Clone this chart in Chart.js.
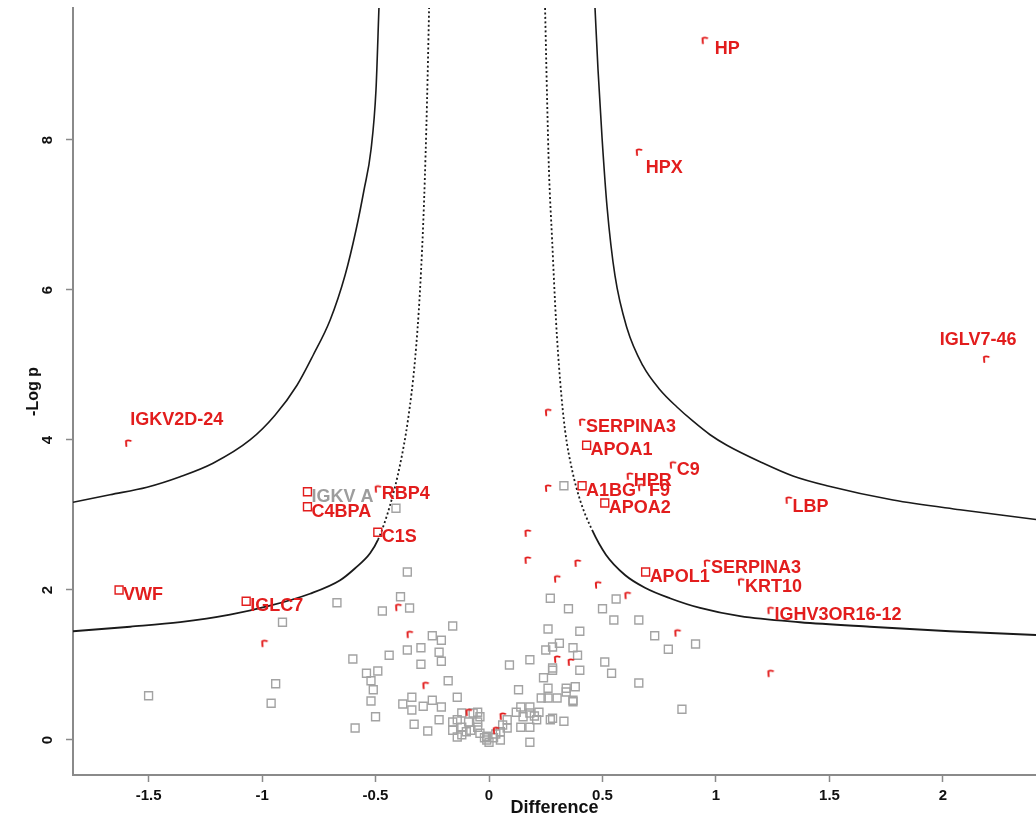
<!DOCTYPE html>
<html>
<head>
<meta charset="utf-8">
<title>Volcano plot</title>
<script src="https://cdn.jsdelivr.net/npm/chart.js@4.4.0/dist/chart.umd.min.js"></script>
<style>
  html, body { margin: 0; padding: 0; background: #fff; }
  #wrap { width: 1036px; height: 818px; }
</style>
</head>
<body>
<div id="wrap"><canvas id="volcano" width="1036" height="818"></canvas></div>
<script>
// proteins below the threshold (gray squares)
const bgX = [-1.50, -0.96, -0.94, -0.91, -0.67, -0.60, -0.59, -0.54, -0.49, -0.52, -0.51, -0.52, -0.50, -0.47, -0.44, -0.41,
  -0.39, -0.36, -0.35, -0.38, -0.34, -0.34, -0.33, -0.36, -0.30, -0.30, -0.29, -0.27, -0.25, -0.25, -0.21, -0.22, -0.21,
  -0.21, -0.22, -0.18, -0.16, -0.14, -0.16, -0.16, -0.14, -0.12, -0.12, -0.10, -0.09, -0.08, -0.07, -0.05, -0.05, -0.04,
  -0.04, -0.02, -0.01, 0.00, 0.02, 0.05, 0.05, 0.06, 0.08, 0.08, 0.09, 0.12, 0.13, 0.14, 0.15, 0.14, 0.18, 0.18, 0.18,
  0.20, 0.18, 0.18, 0.21, 0.22, 0.23, 0.24, 0.26, 0.26, 0.25, 0.26, 0.27, 0.28, 0.28, 0.28, 0.28, 0.31, 0.30, 0.33, 0.33,
  0.34, 0.34, 0.35, 0.37, 0.37, 0.39, 0.38, 0.40, 0.40, 0.37, 0.50, 0.56, 0.55, 0.51, 0.54, 0.66, 0.73, 0.79, 0.91, 0.66,
  0.85, 0.27, -0.01, 0.03, -0.05, -0.12, -0.14];
const bgY = [0.59, 0.49, 0.75, 1.57, 1.83, 1.08, 0.16, 0.89, 0.92, 0.79, 0.67, 0.52, 0.31, 1.72, 1.13, 3.09,
  1.91, 2.24, 1.76, 0.48, 0.57, 0.40, 0.21, 1.20, 1.23, 1.01, 0.45, 0.12, 0.53, 1.39, 1.33, 1.17, 1.05,
  0.44, 0.27, 0.79, 1.52, 0.57, 0.13, 0.24, 0.27, 0.17, 0.36, 0.11, 0.24, 0.13, 0.36, 0.17, 0.37, 0.09,
  0.31, 0.03, 0.00, -0.03, 0.03, 0.00, 0.11, 0.20, 0.27, 0.16, 1.00, 0.37, 0.67, 0.44, 0.31, 0.17, 1.07, 0.44, 0.36,
  0.32, 0.17, -0.03, 0.27, 0.37, 0.56, 0.83, 0.56, 0.69, 1.20, 1.48, 1.89, 0.96, 1.24, 0.93, 0.29, 1.29, 0.56, 0.25, 3.39,
  0.69, 0.64, 1.75, 1.23, 0.53, 1.13, 0.71, 0.93, 1.45, 0.51, 1.75, 1.88, 1.60, 1.04, 0.89, 1.60, 1.39, 1.21, 1.28, 0.76,
  0.41, 0.27, 0.05, 0.08, 0.24, 0.07, 0.04];

// significant, unlabeled (red flags)
const hitX = [0.26, 0.26, 0.17, 0.17, 0.39, 0.30, 0.48, 0.61, 0.83, 1.24, -0.40, -0.35, -0.99, -0.28, -0.09, 0.06, 0.03, 0.30, 0.36];
const hitY = [4.37, 3.36, 2.76, 2.40, 2.36, 2.15, 2.07, 1.93, 1.43, 0.89, 1.77, 1.41, 1.29, 0.73, 0.37, 0.32, 0.13, 1.08, 1.04];

// labeled red flags
const flagNames = ['HP', 'HPX', 'IGLV7-46', 'IGKV2D-24', 'SERPINA3', 'C9', 'HPR', 'F9', 'LBP', 'RBP4', 'SERPINA3', 'KRT10', 'IGHV3OR16-12'];
const flagX = [0.95, 0.66, 2.19, -1.59, 0.41, 0.81, 0.62, 0.67, 1.32, -0.49, 0.96, 1.11, 1.24];
const flagY = [9.33, 7.84, 5.08, 3.96, 4.24, 3.67, 3.52, 3.37, 3.20, 3.35, 2.36, 2.11, 1.73];

// labeled red squares
const sqNames = ['APOA1', 'A1BG', 'APOA2', 'IGKV A', 'C4BPA', 'C1S', 'APOL1', 'VWF', 'IGLC7'];
const sqX = [0.43, 0.41, 0.51, -0.80, -0.80, -0.49, 0.69, -1.63, -1.07];
const sqY = [3.93, 3.39, 3.16, 3.31, 3.11, 2.77, 2.24, 2.00, 1.85];

// threshold curves
const outerRightX = [0.467, 0.480, 0.498, 0.520, 0.555, 0.608, 0.678, 0.753, 0.828, 0.899, 0.974, 1.048, 1.194, 1.339, 1.489, 1.780, 2.075, 2.41];
const outerRightY = [9.76, 8.95, 8.03, 7.11, 6.19, 5.49, 4.99, 4.67, 4.44, 4.25, 4.07, 3.93, 3.71, 3.52, 3.39, 3.20, 3.07, 2.94];
const outerLeftX = [-1.833, -1.670, -1.507, -1.361, -1.216, -1.053, -0.943, -0.846, -0.775, -0.700, -0.634, -0.586, -0.551, -0.520, -0.498, -0.485];
const outerLeftY = [3.17, 3.27, 3.37, 3.51, 3.69, 4.00, 4.33, 4.73, 5.13, 5.60, 6.20, 6.80, 7.33, 7.87, 8.67, 9.76];
const innerRightX = [0.247, 0.256, 0.264, 0.278, 0.295, 0.313, 0.335, 0.366, 0.401, 0.454, 0.515, 0.599, 0.687, 0.797, 0.930, 1.106, 1.370, 1.678, 2.031, 2.41];
const innerRightY = [9.76, 8.53, 7.60, 6.67, 5.60, 4.80, 4.13, 3.60, 3.20, 2.80, 2.47, 2.20, 2.03, 1.89, 1.76, 1.65, 1.57, 1.51, 1.45, 1.40];
const innerLeftX = [-1.833, -1.581, -1.361, -1.141, -0.965, -0.789, -0.656, -0.590, -0.524, -0.489, -0.436, -0.392, -0.357, -0.326, -0.304, -0.286, -0.273, -0.264];
const innerLeftY = [1.45, 1.51, 1.57, 1.67, 1.79, 1.95, 2.13, 2.29, 2.49, 2.67, 3.13, 3.67, 4.27, 5.07, 6.00, 7.20, 8.53, 9.76];

const xTicks = [-1.5, -1, -0.5, 0, 0.5, 1, 1.5, 2];
const yTicks = [0, 2, 4, 6, 8];

const RED = '#e21d1d';
const GRAY = '#a3a3a3';
const AXIS = '#8a8a8a';
const FONT = '"Liberation Sans", Arial, sans-serif';

function toPoints(xs, ys) {
    return xs.map((x, i) => ({ x: x, y: ys[i] }));
}

// small red "flag" glyph used by Perseus for significant hits
function flagMarker(color) {
    const c = document.createElement('canvas');
    c.width = 10;
    c.height = 10;
    const g = c.getContext('2d');
    g.strokeStyle = color;
    g.lineWidth = 1.9;
    g.lineCap = 'round';
    g.beginPath();
    g.moveTo(3.2, 8);
    g.lineTo(2.8, 3.2);
    g.quadraticCurveTo(4.3, 1.7, 7.6, 2.8);
    g.stroke();
    return c;
}
const flag = flagMarker(RED);

function curve(xs, ys, dashed) {
    return {
        data: toPoints(xs, ys),
        showLine: true,
        borderColor: '#1a1a1a',
        borderWidth: dashed ? 1.8 : 1.6,
        pointRadius: 0,
        cubicInterpolationMode: 'monotone',
        segment: dashed ? {
            borderDash: ctx => Math.min(ctx.p0.parsed.y, ctx.p1.parsed.y) > 2.55 ? [2, 2.5] : undefined
        } : undefined
    };
}

// label nudges (px) for names that do not sit just right of their marker
const labelShift = {
    'HP': [10, 9],
    'HPX': [7, 16],
    'IGLV7-46': [-8, -19, 'center'],
    'IGKV2D-24': [2, -23],
    'LBP': [4, 7],
    'F9': [8, 4]
};
const grayLabels = ['IGKV A'];

const pointLabels = {
    id: 'pointLabels',
    afterDatasetsDraw(chart) {
        const ctx = chart.ctx;
        ctx.save();
        ctx.font = 'bold 18px ' + FONT;
        ctx.textBaseline = 'middle';
        chart.data.datasets.forEach((ds, i) => {
            if (!ds.names) return;
            chart.getDatasetMeta(i).data.forEach((pt, j) => {
                const name = ds.names[j];
                const s = labelShift[name] || [4, 5];
                ctx.textAlign = s[2] || 'left';
                ctx.fillStyle = grayLabels.includes(name) ? '#9d9d9d' : RED;
                ctx.fillText(name, pt.x + s[0], pt.y + s[1]);
            });
        });
        ctx.restore();
    }
};

new Chart(document.getElementById('volcano'), {
    type: 'scatter',
    data: {
        datasets: [
            {
                data: toPoints(sqX, sqY), names: sqNames,
                pointStyle: 'rect', pointRadius: 5.6, pointBorderWidth: 1.4,
                pointBorderColor: RED, pointBackgroundColor: 'rgba(0,0,0,0)'
            },
            {
                data: toPoints(flagX, flagY), names: flagNames,
                pointStyle: flag, pointRadius: 4
            },
            {
                data: toPoints(hitX, hitY),
                pointStyle: flag, pointRadius: 4
            },
            {
                data: toPoints(bgX, bgY),
                pointStyle: 'rect', pointRadius: 5.6, pointBorderWidth: 1.4,
                pointBorderColor: GRAY, pointBackgroundColor: 'rgba(0,0,0,0)'
            },
            curve(outerRightX, outerRightY, false),
            curve(outerLeftX, outerLeftY, false),
            curve(innerRightX, innerRightY, true),
            curve(innerLeftX, innerLeftY, true)
        ]
    },
    options: {
        responsive: false,
        animation: false,
        layout: { autoPadding: false, padding: { top: 8, right: 0, bottom: 0, left: 0 } },
        plugins: {
            legend: { display: false },
            tooltip: { enabled: false }
        },
        scales: {
            x: {
                type: 'linear',
                min: -1.833,
                max: 2.41,
                afterBuildTicks: s => { s.ticks = xTicks.map(v => ({ value: v })); },
                afterFit: s => { s.height = 43; s.paddingLeft = 0; s.paddingRight = 0; },
                border: { color: AXIS, width: 2 },
                grid: { drawOnChartArea: false, drawTicks: true, tickLength: 7, color: AXIS, tickWidth: 1.5 },
                ticks: {
                    color: '#111',
                    padding: 5,
                    minRotation: 0,
                    maxRotation: 0,
                    font: { family: FONT, size: 15, weight: 'bold' },
                    callback: v => String(v)
                },
                title: {
                    display: true,
                    text: 'Difference',
                    color: '#111',
                    font: { family: FONT, size: 18, weight: 'bold' },
                    padding: { top: 0, bottom: -1 }
                }
            },
            y: {
                type: 'linear',
                min: -0.467,
                max: 9.76,
                afterBuildTicks: s => { s.ticks = yTicks.map(v => ({ value: v })); },
                afterFit: s => { s.width = 73; s.paddingTop = 0; s.paddingBottom = 0; },
                border: { color: AXIS, width: 2 },
                grid: { drawOnChartArea: false, drawTicks: true, tickLength: 7, color: AXIS, tickWidth: 1.5 },
                ticks: {
                    color: '#111',
                    padding: 14,
                    minRotation: 90,
                    maxRotation: 90,
                    crossAlign: 'center',
                    font: { family: FONT, size: 15, weight: 'bold' },
                    callback: v => String(v)
                },
                title: {
                    display: true,
                    text: '-Log p',
                    color: '#111',
                    font: { family: FONT, size: 16, weight: 'bold' },
                    padding: { top: 24, bottom: 0 }
                }
            }
        }
    },
    plugins: [pointLabels]
});
</script>
</body>
</html>
